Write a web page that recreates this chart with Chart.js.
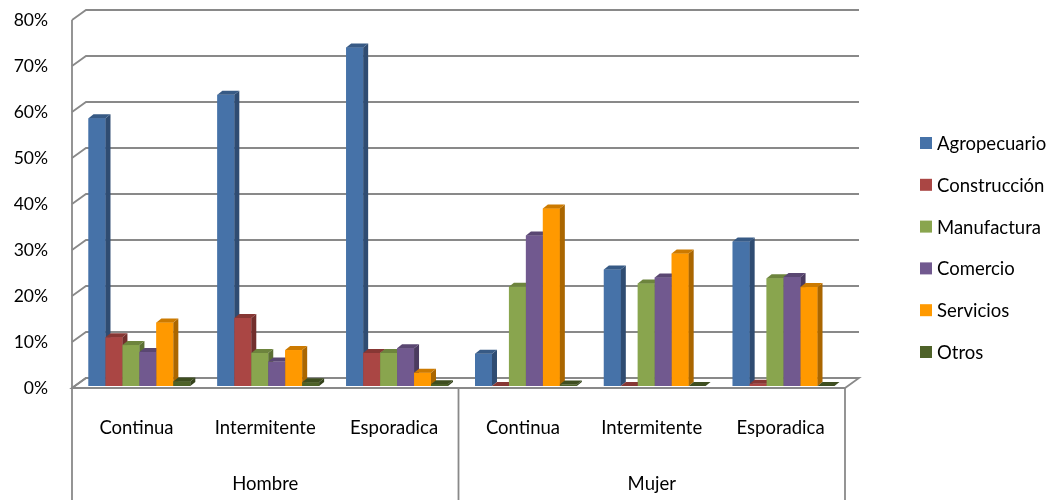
<!DOCTYPE html>
<html>
<head>
<meta charset="utf-8">
<script src="https://cdn.jsdelivr.net/npm/chart.js@4"></script>
<style>
  html, body { margin: 0; padding: 0; background: #fff; }
  #wrap { width: 1061px; height: 500px; }
</style>
</head>
<body>
<div id="wrap"><canvas id="myChart" width="1061" height="500"></canvas></div>
<script>
var ctx = document.getElementById('myChart').getContext('2d');

/* Tipo de empleo por sexo y sector */
const categorias = ['Continua', 'Intermitente', 'Esporadica', 'Continua', 'Intermitente', 'Esporadica'];
const grupos = ['Hombre', 'Mujer'];
const sectores = ['Agropecuario', 'Construcción', 'Manufactura', 'Comercio', 'Servicios', 'Otros'];

const agropecuario = [58.2, 63.3, 73.6, 7.0, 25.3, 31.4];
const construccion = [10.6, 14.8, 7.2, 0, 0, 0.5];
const manufactura = [8.9, 7.2, 7.2, 21.6, 22.3, 23.4];
const comercio = [7.4, 5.3, 8.2, 32.7, 23.6, 23.7];
const servicios = [13.8, 7.8, 2.9, 38.6, 28.8, 21.5];
const otros = [1.0, 0.8, 0.4, 0.3, 0, 0];

const yTicks = [0, 10, 20, 30, 40, 50, 60, 70, 80];

const colores = ['#4672A8', '#AA4644', '#89A54E', '#71598F', '#FF9900', '#4E6229'];
const lados = ['#2F4C72', '#722F2D', '#5C6F34', '#4B3B60', '#AA6600', '#34421B'];
const techos = ['#375A85', '#873734', '#6D843D', '#5A4772', '#CC7A00', '#3E4E20'];

const series = [agropecuario, construccion, manufactura, comercio, servicios, otros];

// profundidad de la caja 3D y de cada barra
const DX = 14, DY = -10;
const BDX = 5, BDY = -4;
const SHIFT_X = 3, SHIFT_Y = -2;
const FONT = 'Lato, "Open Sans", sans-serif';

const caja3d = {
    id: 'caja3d',
    beforeDatasetsDraw(chart) {
        const c = chart.ctx;
        const area = chart.chartArea;
        const y = chart.scales.y;
        c.save();
        c.strokeStyle = '#898989';
        c.lineWidth = 1.8;
        // piso
        const y0 = y.getPixelForValue(0);
        c.fillStyle = '#fff';
        c.beginPath();
        c.moveTo(area.left, y0);
        c.lineTo(area.left + DX, y0 + DY);
        c.lineTo(area.right + DX, y0 + DY);
        c.lineTo(area.right, y0);
        c.closePath();
        c.fill();
        c.stroke();
        // lineas de la pared del fondo
        yTicks.forEach(function (v) {
            const py = y.getPixelForValue(v);
            c.beginPath();
            c.moveTo(area.left, py);
            c.lineTo(area.left + DX, py + DY);
            c.lineTo(area.right + DX, py + DY);
            c.stroke();
        });
        // eje vertical
        c.beginPath();
        c.moveTo(area.left, y.getPixelForValue(80));
        c.lineTo(area.left, y0);
        c.stroke();
        c.restore();

        c.save();
        c.translate(SHIFT_X, SHIFT_Y);
    },
    afterDatasetsDraw(chart) {
        const c = chart.ctx;
        chart.data.datasets.forEach(function (ds, i) {
            const meta = chart.getDatasetMeta(i);
            meta.data.forEach(function (bar) {
                const p = bar.getProps(['x', 'y', 'base', 'width'], true);
                const l = p.x - p.width / 2, r = p.x + p.width / 2;
                const top = Math.min(p.y, p.base), bot = p.base;
                // cara frontal
                c.fillStyle = colores[i];
                c.fillRect(l, top, r - l, bot - top);
                // cara lateral
                c.fillStyle = lados[i];
                c.beginPath();
                c.moveTo(r, top);
                c.lineTo(r + BDX, top + BDY);
                c.lineTo(r + BDX, bot + BDY);
                c.lineTo(r, bot);
                c.closePath();
                c.fill();
                // cara superior
                c.fillStyle = techos[i];
                c.beginPath();
                c.moveTo(l, top);
                c.lineTo(l + BDX, top + BDY);
                c.lineTo(r + BDX, top + BDY);
                c.lineTo(r, top);
                c.closePath();
                c.fill();
            });
        });
        c.restore();
    },
    afterDraw(chart) {
        const c = chart.ctx;
        const area = chart.chartArea;
        const x = chart.scales.x;
        // separadores de la tabla de categorias
        c.save();
        c.strokeStyle = '#898989';
        c.lineWidth = 1.8;
        [area.left, x.getPixelForValue(2.5), area.right].forEach(function (px) {
            c.beginPath();
            c.moveTo(px, area.bottom);
            c.lineTo(px, chart.height);
            c.stroke();
        });
        c.restore();

        // leyenda
        c.save();
        c.font = '18.5px ' + FONT;
        c.textBaseline = 'middle';
        sectores.forEach(function (s, i) {
            const cy = 143 + i * 41.8;
            c.fillStyle = colores[i];
            c.fillRect(920, cy - 6, 12, 12);
            c.fillStyle = '#000';
            c.fillText(s, 937, cy + 1);
        });
        c.restore();
    }
};

var myChart = new Chart(ctx, {
    type: 'bar',
    data: {
        labels: categorias,
        datasets: sectores.map(function (s, i) {
            return {
                label: s,
                data: series[i],
                backgroundColor: colores[i],
                borderWidth: 0
            };
        })
    },
    options: {
        responsive: false,
        animation: false,
        events: [],
        layout: { padding: { top: 20, right: 216, left: 0, bottom: 0 } },
        datasets: { bar: { categoryPercentage: 0.79, barPercentage: 1 } },
        plugins: {
            legend: { display: false },
            tooltip: { enabled: false }
        },
        scales: {
            y: {
                min: 0,
                max: 80,
                afterFit: function (s) {
                    s.width = 72;
                    s.paddingTop = 0;
                    s.paddingBottom = 0;
                },
                afterBuildTicks: function (s) { s.ticks = yTicks.map(function (v) { return { value: v }; }); },
                grid: { display: false, drawTicks: false },
                border: { display: false },
                ticks: {
                    padding: 24,
                    color: '#000',
                    font: { family: FONT, size: 17.5 },
                    callback: function (v) { return v + '%'; }
                }
            },
            x: {
                weight: 0,
                afterFit: function (s) {
                    s.height = 56;
                    s.paddingLeft = 0;
                    s.paddingRight = 0;
                },
                grid: { display: false, drawTicks: false },
                border: { display: false },
                ticks: {
                    padding: 29,
                    maxRotation: 0,
                    autoSkip: false,
                    color: '#000',
                    font: { family: FONT, size: 18.5 }
                }
            },
            x2: {
                type: 'category',
                position: 'bottom',
                weight: 1,
                labels: grupos,
                offset: true,
                afterFit: function (s) {
                    s.height = 56;
                    s.paddingLeft = 0;
                    s.paddingRight = 0;
                },
                grid: { display: false, drawTicks: false },
                border: { display: false },
                ticks: {
                    padding: 29,
                    maxRotation: 0,
                    color: '#000',
                    font: { family: FONT, size: 18.5 }
                }
            }
        }
    },
    plugins: [caja3d]
});
</script>
</body>
</html>
